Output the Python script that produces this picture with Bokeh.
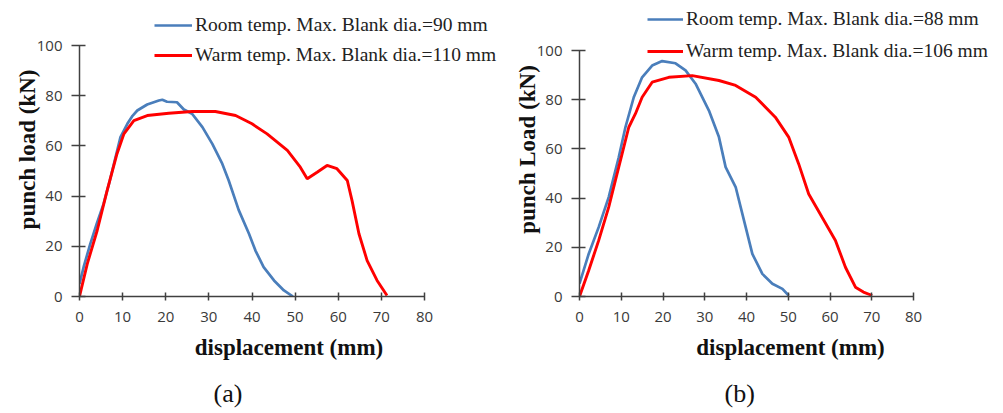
from bokeh.plotting import figure
from bokeh.models import Range1d, FixedTicker, Legend, LegendItem, Title
from bokeh.layouts import row
from bokeh.embed import file_html
from bokeh.resources import INLINE

# ---------------- data ----------------
x_ticks = [0, 10, 20, 30, 40, 50, 60, 70, 80]
y_ticks = [0, 20, 40, 60, 80, 100]

a_room_x = [0, 1, 2.5, 4, 5.6, 7, 8, 9.5, 11.1, 12.3, 13.4, 15.7, 18.4, 19.2, 20.3, 22.6, 24.2,
            26.1, 28.5, 30.8, 33.1, 34.6, 36.9, 39.3, 40.8, 42.7, 45.1, 47.4, 49.5]
a_room_y = [5, 12, 21, 29, 37, 46, 53, 63.5, 68.8, 72, 74.1, 76.5, 78.1, 78.4, 77.6, 77.4, 74.5,
            72.8, 67.5, 60.8, 52.9, 46.2, 34.5, 25, 18.3, 11.7, 6.4, 2.4, 0]
a_warm_x = [0, 1.8, 4.1, 6.4, 8.7, 10.3, 12.6, 15.7, 20.7, 26.1, 31.5, 36.2, 40, 43.5, 48.2,
            51.2, 52.8, 55.1, 57.4, 59.7, 62.1, 63.2, 64.8, 66.7, 69, 71.3]
a_warm_y = [0, 13, 26.3, 42.2, 56.9, 64.8, 70.1, 72.1, 73, 73.7, 73.7, 72.1, 68.8, 64.8, 58.2,
            51.5, 46.9, 49.5, 52.2, 50.9, 46.2, 38.2, 25, 14.3, 6.4, 0.4]

b_room_x = [0, 2.2, 4.6, 7, 9.4, 11, 13, 15, 17.4, 19.8, 23, 25.4, 27.8, 31, 33.4, 35, 37.4,
            39.8, 41.4, 43.8, 46.2, 48.6, 50.1]
b_room_y = [5.2, 17.3, 28.2, 40.4, 56.6, 68.8, 81, 89.1, 93.9, 95.7, 94.8, 91.9, 86.5, 75.6,
            64.8, 52.6, 44.5, 28.2, 17.3, 9.2, 5.2, 3.1, 0.4]
b_warm_x = [0, 2.2, 4.6, 7, 8.6, 10.2, 11.8, 13.4, 15, 17.4, 21.4, 27, 33.4, 37.4, 42.2, 46.9,
            50.1, 52.5, 54.9, 58.1, 61.3, 63.7, 66.1, 68, 70.1]
b_warm_y = [0, 10.6, 22.8, 36.3, 47.2, 58, 68.8, 74.3, 81, 87.1, 89.1, 89.8, 87.8, 85.8, 81,
            72.9, 64.8, 53.9, 41.7, 32.2, 22.8, 11.9, 3.8, 1.8, 0.4]

BLUE = "#4a7ebb"
RED = "#ff0000"
AXIS_C = "#404040"
FIG_H = 413


def make_panel(width, border_left, border_right, border_top, border_bottom, x_end, y_end,
               rx, ry, wx, wy, ylabel, room_lbl, warm_lbl, leg_loc, leg_spacing,
               glyph_w, tag, tag_offset):
    p = figure(width=width, height=FIG_H, output_backend="svg", toolbar_location=None,
               x_range=Range1d(0, x_end), y_range=Range1d(0, y_end),
               min_border_left=border_left, min_border_right=border_right,
               min_border_top=border_top, min_border_bottom=border_bottom)
    p.outline_line_color = None
    p.xgrid.visible = False
    p.ygrid.visible = False
    p.background_fill_color = "white"
    p.border_fill_color = "white"

    r1 = p.line(rx, ry, line_color=BLUE, line_width=2.7)
    r2 = p.line(wx, wy, line_color=RED, line_width=2.9)

    for ax in (p.xaxis[0], p.yaxis[0]):
        ax.axis_line_color = AXIS_C
        ax.axis_line_width = 1.5
        ax.major_tick_line_color = AXIS_C
        ax.major_tick_line_width = 1.5
        ax.minor_tick_line_color = None
        ax.major_label_text_font = "Open Sans"
        ax.major_label_text_font_size = "15px"
        ax.major_label_text_color = "#3a3a3a"
        ax.axis_label_text_font = "Liberation Serif"
        ax.axis_label_text_font_style = "bold"
        ax.axis_label_text_font_size = "23px"
        ax.axis_label_text_color = "#111111"

    p.xaxis[0].ticker = FixedTicker(ticks=x_ticks)
    p.yaxis[0].ticker = FixedTicker(ticks=y_ticks)
    p.xaxis[0].bounds = (0, 80)
    p.yaxis[0].bounds = (0, 100)
    p.xaxis[0].major_tick_in = 4
    p.xaxis[0].major_tick_out = 4
    p.yaxis[0].major_tick_in = 6
    p.yaxis[0].major_tick_out = 8
    p.xaxis[0].major_label_standoff = 11
    p.yaxis[0].major_label_standoff = 9
    p.xaxis[0].axis_label = "displacement (mm)"
    p.yaxis[0].axis_label = ylabel
    p.xaxis[0].axis_label_standoff = 10
    p.yaxis[0].axis_label_standoff = -6

    legend = Legend(items=[LegendItem(label=room_lbl, renderers=[r1]),
                           LegendItem(label=warm_lbl, renderers=[r2])],
                    location=leg_loc, padding=0, margin=0, spacing=leg_spacing,
                    glyph_width=glyph_w, glyph_height=24, label_height=24,
                    label_standoff=3, border_line_color=None,
                    background_fill_alpha=0,
                    label_text_font="Liberation Serif", label_text_font_size="19.5px",
                    label_text_color="#222222")
    p.add_layout(legend, "center")

    spacer = Title(text=" ", text_font_size="10px", standoff=0)
    p.add_layout(spacer, "below")
    t = Title(text=tag, align="left", offset=tag_offset, text_font="Liberation Serif",
              text_font_style="normal", text_font_size="26px", text_color="#111111",
              standoff=2)
    p.add_layout(t, "below")
    return p


# panel (a): frame left 79, 4.3125 px/unit in x, 2.51 px/unit in y, frame bottom 296
pa = make_panel(500, 79, 2, 2, FIG_H - 296, 419 / 4.3125, 294 / 2.51,
                a_room_x, a_room_y, a_warm_x, a_warm_y,
                "punch load (kN)",
                "Room temp. Max. Blank dia.=90 mm",
                "Warm temp. Max. Blank dia.=110 mm",
                (75, 229), 6, 38, "(a)", 134)
# panel (b): frame left 79 (page 579), 4.175 px/unit in x, 2.46 px/unit in y
pb = make_panel(503, 79, 2, 2, FIG_H - 296, 422 / 4.175, 294 / 2.46,
                b_room_x, b_room_y, b_warm_x, b_warm_y,
                "punch Load (kN)",
                "Room temp. Max. Blank dia.=88 mm",
                "Warm temp. Max. Blank dia.=106 mm",
                (68, 233), 8, 36, "(b)", 145)

layout = row(pa, pb)
open("out.html", "w").write(file_html(layout, INLINE))
